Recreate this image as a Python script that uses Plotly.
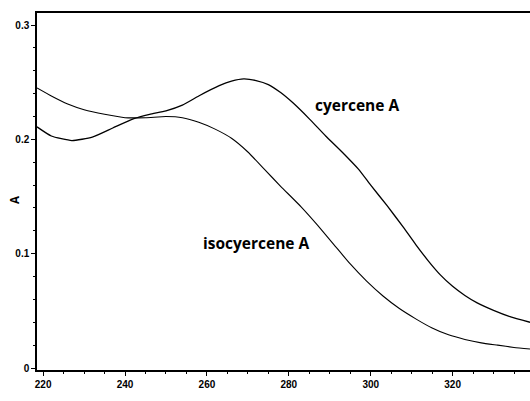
import plotly.graph_objects as go

# wavelength (nm) and absorbance values
cyercene_x = [218.5, 222, 227, 232, 237, 242, 246, 250, 254, 258, 263, 266, 269, 272, 275, 278,
              281, 285, 289, 293, 297, 300, 304, 308, 311, 314, 317, 320, 323, 326, 330, 334, 338.9]
cyercene_y = [0.211, 0.203, 0.199, 0.202, 0.210, 0.218, 0.222, 0.225, 0.230, 0.238, 0.247, 0.251,
              0.253, 0.2515, 0.248, 0.241, 0.232, 0.218, 0.203, 0.189, 0.174, 0.160, 0.142, 0.123,
              0.108, 0.094, 0.0815, 0.0715, 0.0635, 0.057, 0.0505, 0.045, 0.040]

iso_x = [218.5, 222, 226, 230, 235, 240, 245, 250, 254, 258, 262, 266, 270, 274, 278, 283, 287,
         291, 295, 299, 303, 307, 311, 315, 319, 323, 327, 331, 335, 338.9]
iso_y = [0.245, 0.238, 0.231, 0.226, 0.222, 0.219, 0.219, 0.220, 0.219, 0.215, 0.209, 0.201,
         0.189, 0.174, 0.159, 0.141, 0.125, 0.108, 0.091, 0.076, 0.063, 0.052, 0.043, 0.035,
         0.029, 0.025, 0.022, 0.020, 0.018, 0.0166]

x_ticks = [220, 240, 260, 280, 300, 320]
x_tick_labels = ["220", "240", "260", "280", "300", "320"]
y_ticks = [0, 0.1, 0.2, 0.3]
y_tick_labels = ["0", "0.1", "0.2", "0.3"]

labels = ["cyercene A", "isocyercene A"]
label_x = [296.6, 272.0]
label_y = [0.2304, 0.1094]

fig = go.Figure()
fig.add_trace(go.Scatter(x=cyercene_x, y=cyercene_y, mode="lines",
                         line=dict(color="black", width=1.3, shape="spline", smoothing=0.5),
                         showlegend=False, hoverinfo="skip"))
fig.add_trace(go.Scatter(x=iso_x, y=iso_y, mode="lines",
                         line=dict(color="black", width=1.1, shape="spline", smoothing=0.5),
                         showlegend=False, hoverinfo="skip"))

for t, lx, ly in zip(labels, label_x, label_y):
    fig.add_annotation(x=lx, y=ly, text=t, showarrow=False, xref="x", yref="y",
                       xanchor="center", yanchor="middle",
                       font=dict(family="Open Sans", size=15.5, color="black", weight="bold"))

fig.add_annotation(x=266.5, y=-0.015, xref="x", yref="y", text="wavelength (nm)", showarrow=False,
                   xanchor="center", yanchor="top",
                   font=dict(family="Open Sans", size=13, color="black", weight="bold"))
fig.add_annotation(x=-0.046, y=0.477, xref="paper", yref="paper", text="A", showarrow=False,
                   textangle=-90, xanchor="center", yanchor="middle",
                   font=dict(family="Open Sans", size=11.5, color="black", weight="bold"))

fig.update_layout(
    width=530, height=401,
    margin=dict(l=37, r=0, t=13, b=31),
    paper_bgcolor="white", plot_bgcolor="white",
    xaxis=dict(range=[218.5, 338.9], tickvals=x_ticks, ticktext=x_tick_labels,
               showgrid=False, zeroline=False, showline=True, linecolor="black", linewidth=1.5,
               mirror=True, ticks="outside", ticklen=4, tickwidth=1, tickcolor="black",
               minor=dict(dtick=5, tick0=220, ticks="outside", ticklen=2, tickcolor="black", tickwidth=1),
               tickfont=dict(family="Liberation Sans", size=10, color="black", weight="bold")),
    yaxis=dict(range=[-0.00175, 0.3106], tickvals=y_ticks, ticktext=y_tick_labels,
               showgrid=False, zeroline=False, showline=True, linecolor="black", linewidth=1.5,
               ticks="outside", ticklen=4, tickwidth=1, tickcolor="black",
               minor=dict(dtick=0.02, tick0=0, ticks="outside", ticklen=2, tickcolor="black", tickwidth=1),
               tickfont=dict(family="Liberation Sans", size=10, color="black", weight="bold")),
)

fig.write_html("out.html", config={"displayModeBar": False},
               post_script="document.body.style.margin='0';document.body.style.overflow='hidden';")
